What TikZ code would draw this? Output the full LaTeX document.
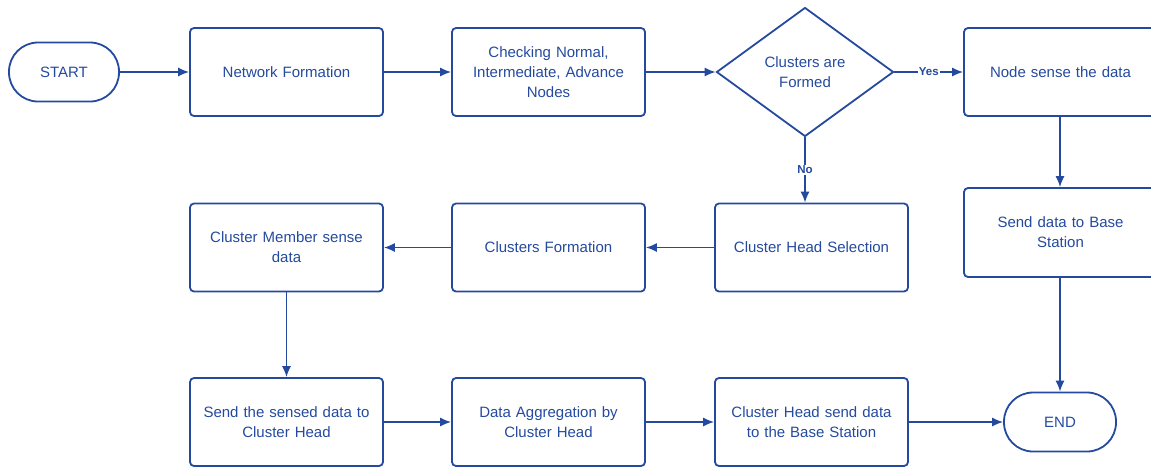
\documentclass[tikz,border=0pt]{standalone}
\usepackage{fontspec}
\setmainfont{Liberation Sans}
\usetikzlibrary{shapes.geometric,arrows.meta}
\definecolor{flow}{RGB}{36,74,158}
\tikzset{
  box/.style={draw=flow, line width=1.8pt, rounded corners=4pt, minimum width=193pt, minimum height=88pt,
    text width=180pt, align=center, text=flow, font=\fontsize{15}{20}\selectfont},
  term/.style={draw=flow, line width=1.8pt, rounded corners=29pt, minimum width=110pt, minimum height=59pt,
    align=center, text=flow, font=\fontsize{15}{20}\selectfont},
  decision/.style={draw=flow, line width=1.8pt, diamond, minimum width=177pt, minimum height=129pt,
    inner sep=0pt, align=center, text=flow, font=\fontsize{15}{20}\selectfont},
  link/.style={draw=flow, line width=1.4pt, -{Latex[length=11pt,width=9pt]}},
  tag/.style={fill=white, inner sep=1pt, text=flow, font=\fontsize{11.5}{13}\selectfont\bfseries}
}
\begin{document}
\begin{tikzpicture}[x=1pt,y=-1pt]
\useasboundingbox (0,0) rectangle (1151,467);
% top row
\node[term] (start) at (64,72) {START};
\node[box] (net) at (286.5,72) {Network Formation};
\node[box] (check) at (548.5,72) {Checking Normal,\\Intermediate, Advance\\Nodes};
\node[decision] (dec) at (805,72) {Clusters are\\Formed};
\node[box] (sense) at (1060.5,72) {Node sense the data};
% middle row
\node[box] (member) at (286.5,247.5) {Cluster Member sense\\data};
\node[box] (form) at (548.5,247.5) {Clusters Formation};
\node[box] (chs) at (811.5,247.5) {Cluster Head Selection};
\node[box, minimum height=89pt] (send) at (1060.5,232.5) {Send data to Base\\Station};
% bottom row
\node[box] (sensed) at (286.5,422) {Send the sensed data to\\Cluster Head};
\node[box] (agg) at (548.5,422) {Data Aggregation by\\Cluster Head};
\node[box] (chsend) at (811.5,422) {Cluster Head send data\\to the Base Station};
\node[term, minimum width=112pt] (end) at (1060,422) {END};
% connectors
\draw[link] (start) -- (net);
\draw[link] (net) -- (check);
\draw[link] (check) -- (dec);
\draw[link] (dec) -- node[tag]{Yes} (sense);
\draw[link] (dec) -- node[tag]{No} (dec |- chs.north);
\draw[link] (sense.south -| end) -- (send.north -| end);
\draw[link] (send.south -| end) -- (end);
\draw[link] (chs) -- (form);
\draw[link] (form) -- (member);
\draw[link] (member) -- (sensed);
\draw[link] (sensed) -- (agg);
\draw[link] (agg) -- (chsend);
\draw[link] (chsend) -- (end);
\end{tikzpicture}
\end{document}
